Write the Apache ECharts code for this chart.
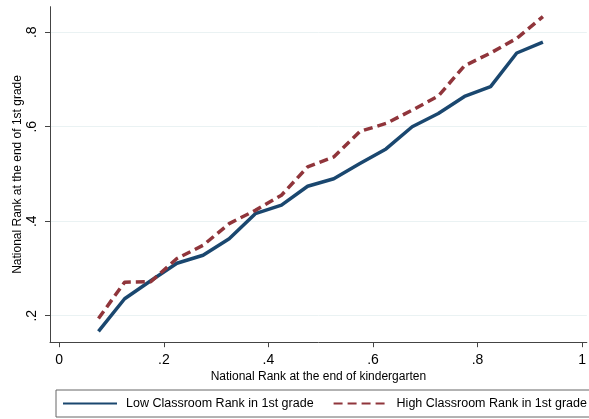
<!DOCTYPE html>
<html>
<head>
<meta charset="utf-8">
<script src="https://cdn.jsdelivr.net/npm/echarts@6/dist/echarts.min.js"></script>
<style>html,body{margin:0;padding:0;background:#fff;}#c{width:589px;height:419px;}</style>
</head>
<body>
<div id="c"></div>
<script>
const xValues = [0.075,0.125,0.175,0.225,0.275,0.325,0.375,0.425,0.475,0.525,0.575,0.625,0.675,0.725,0.775,0.825,0.875,0.925];
const lowRank = [0.167,0.236,0.274,0.311,0.328,0.363,0.416,0.434,0.474,0.490,0.522,0.553,0.600,0.628,0.664,0.685,0.756,0.779];
const highRank = [0.194,0.271,0.272,0.321,0.349,0.395,0.423,0.455,0.515,0.536,0.590,0.607,0.635,0.665,0.729,0.756,0.787,0.833];
const xTicks = [0,0.2,0.4,0.6,0.8,1];
const yTicks = [0.2,0.4,0.6,0.8];
const seriesNames = ['Low Classroom Rank in 1st grade','High Classroom Rank in 1st grade'];
const fmt = v => (Math.abs(v-1)<1e-9 ? '1' : (Math.abs(v)<1e-9 ? '0' : String(+v.toFixed(1)).replace(/^0/,'')));
const font = '"Liberation Sans", Arial, Helvetica, sans-serif';
const chart = echarts.init(document.getElementById('c'));
chart.setOption({
  animation:false,
  backgroundColor:'#fff',
  textStyle:{fontFamily:font},
  grid:{left:50,right:0,top:6.7,bottom:76.8,containLabel:false},
  xAxis:{type:'value',min:-0.0177,max:1.009,
    name:'National Rank at the end of kindergarten',nameLocation:'middle',nameGap:28,nameMoveOverlap:false,
    nameTextStyle:{fontSize:12,color:'#000',fontFamily:font},
    axisLine:{show:true,onZero:false,lineStyle:{color:'#444',width:1}},
    axisTick:{show:true,length:5,customValues:xTicks,lineStyle:{color:'#444'}},
    axisLabel:{customValues:xTicks,formatter:fmt,fontSize:14,color:'#000',margin:11,fontFamily:font},
    splitLine:{show:false}},
  yAxis:{type:'value',min:0.144,max:0.854,
    name:'National Rank at the end of 1st grade',nameLocation:'middle',nameGap:26,nameMoveOverlap:false,
    nameTextStyle:{fontSize:12,color:'#000',fontFamily:font},
    axisLine:{show:true,onZero:false,lineStyle:{color:'#444',width:1}},
    axisTick:{show:true,length:5,customValues:yTicks,lineStyle:{color:'#444'}},
    axisLabel:{customValues:yTicks,formatter:fmt,fontSize:14,color:'#000',margin:11,rotate:90,fontFamily:font},
    splitLine:{show:true,lineStyle:{color:'#eaf2f3',width:1}}},
  legend:{left:56,top:390,width:560,orient:'horizontal',
    padding:[7,5,7,6],itemGap:19,itemWidth:54,itemHeight:2,
    borderColor:'#666',borderWidth:1,
    itemStyle:{opacity:0,borderWidth:0},
    textStyle:{fontSize:12.5,color:'#000',fontFamily:font,padding:[0,0,0,4]},
    data:seriesNames},
  series:[
    {name:seriesNames[0],type:'line',symbol:'none',data:xValues.map((x,i)=>[x,lowRank[i]]),
     lineStyle:{color:'#1a476f',width:3.5,cap:'butt',join:'round'},itemStyle:{color:'#1a476f'}},
    {name:seriesNames[1],type:'line',symbol:'none',data:xValues.map((x,i)=>[x,highRank[i]]),
     lineStyle:{color:'#90353b',width:3.5,type:[9,5],cap:'butt',join:'round'},itemStyle:{color:'#90353b'}}
  ]
});
</script>
</body>
</html>
